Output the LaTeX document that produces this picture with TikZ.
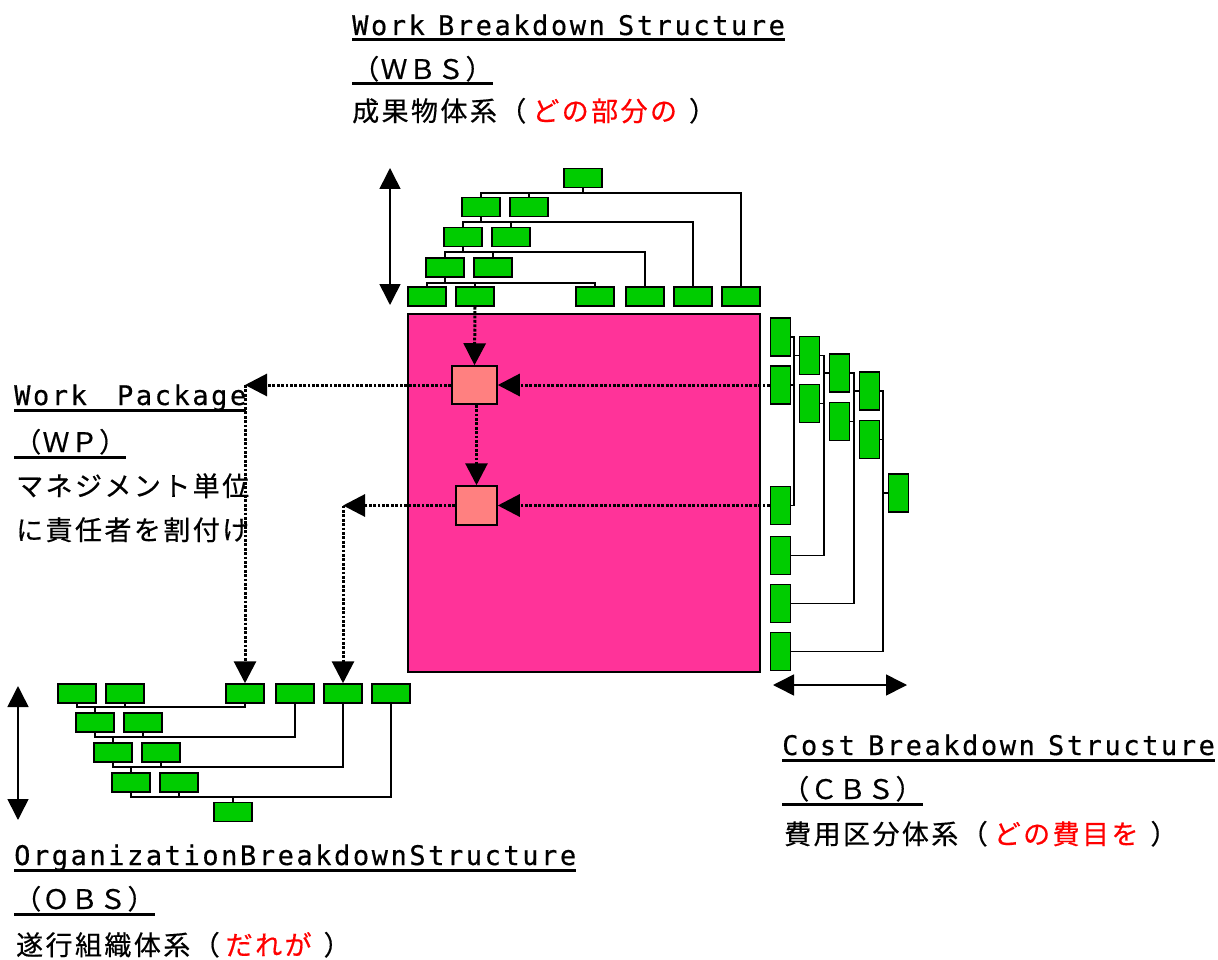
\documentclass[tikz,border=0pt]{standalone}
\usepackage{fontspec}
\usepackage{xcolor}
\usepackage{tikz}
\usetikzlibrary{arrows.meta}
\newfontfamily\jpfont{Noto Sans CJK JP}[LetterSpace=9,FakeBold=0.5]
\newfontfamily\jpabbr{Noto Sans CJK JP}[LetterSpace=5,FakeBold=0.5]
\newfontfamily\enfont{DejaVu Sans Mono}[LetterSpace=9.5,WordSpace=0.7,FakeBold=0.5]
\newcommand{\lpar}{（\hspace{6pt}}
\newcommand{\rpar}{\hspace{12pt}）}
\definecolor{boxgreen}{RGB}{0,204,0}
\definecolor{matpink}{RGB}{255,51,153}
\definecolor{wpsalmon}{RGB}{255,128,128}
\tikzstyle{hbox} = [rectangle, draw=black, line width=1.5pt, fill=boxgreen, minimum width=38pt, minimum height=19pt, inner sep=0pt]
\tikzstyle{vbox} = [rectangle, draw=black, line width=1.5pt, fill=boxgreen, minimum width=20pt, minimum height=38pt, inner sep=0pt]
\tikzstyle{wpbox} = [rectangle, draw=black, line width=1.5pt, fill=wpsalmon, inner sep=0pt]
\tikzstyle{link} = [line width=1.6pt]
\tikzstyle{bigarrow} = [line width=1.6pt,{Triangle[width=21pt,length=21pt]}-{Triangle[width=21pt,length=21pt]}]
\tikzstyle{dotarrow} = [line width=3pt,dash pattern=on 2.8pt off 1.6pt,-{Triangle[width=22pt,length=22pt]}]
\tikzstyle{txt} = [anchor=base west, inner sep=0pt, font=\fontsize{27}{30}\selectfont\jpfont]
\tikzstyle{ul} = [append after command={([yshift=-5pt]\tikzlastnode.base west) edge[line width=3pt] ([yshift=-5pt]\tikzlastnode.base east)}]

\begin{document}
\begin{tikzpicture}[x=1pt,y=-1pt]
\useasboundingbox (0,0) rectangle (1218,960);

% matrix
\node[draw, line width=1.5pt, fill=matpink, minimum width=352pt, minimum height=358pt, inner sep=0pt] (mat) at (584,493) {};

% WBS
\node[hbox] (w0) at (583,178) {};
\node[hbox] (w1a) at (481,207) {};
\node[hbox] (w1b) at (529,207) {};
\node[hbox] (w2a) at (463,237) {};
\node[hbox] (w2b) at (511,237) {};
\node[hbox] (w3a) at (445,267.5) {};
\node[hbox] (w3b) at (493,267.5) {};
\foreach \n/\x in {1/427,2/475,3/595,4/645,5/693,6/741}
  \node[hbox] (b\n) at (\x,296.5) {};
\foreach \p/\ca/\cb/\cc in {w0/w1a/w1b/b6, w1a/w2a/w2b/b5, w2a/w3a/w3b/b4, w3a/b1/b2/b3}
  \draw[link] (\p.south) -- ++(0,5) coordinate (bus) (\ca.north) |- (bus) (\cb.north) |- (bus) (\cc.north) |- (bus);
\coordinate (wtop) at (390,168);
\coordinate (wbot) at (390,305);
\draw[bigarrow] (wtop) -- (wbot);

% CBS
\foreach \n/\y in {1/337,2/385,3/505.5,4/555.5,5/603.5,6/651.5}
  \node[vbox] (c\n) at (780.5,\y) {};
\node[vbox] (d1) at (809.5,355.5) {};
\node[vbox] (d2) at (809.5,403.5) {};
\node[vbox] (e1) at (839.5,373) {};
\node[vbox] (e2) at (839.5,421.5) {};
\node[vbox] (f1) at (869.5,391) {};
\node[vbox] (f2) at (869.5,439.5) {};
\node[vbox] (g0) at (898.5,493) {};
\foreach \p/\ca/\cb/\cc in {g0/f1/f2/c6, f1/e1/e2/c5, e1/d1/d2/c4, d1/c1/c2/c3}
  \draw[link] (\p.west) -- ++(-5,0) coordinate (bus) (\ca.east) -| (bus) (\cb.east) -| (bus) (\cc.east) -| (bus);
\coordinate (cleft) at (773,685);
\coordinate (cright) at (907,685);
\draw[bigarrow] (cleft) -- (cright);

% OBS
\foreach \n/\x in {1/77,2/125,3/245,4/295,5/343,6/391}
  \node[hbox] (t\n) at (\x,693.5) {};
\node[hbox] (o1a) at (95,722.5) {};
\node[hbox] (o1b) at (143,722.5) {};
\node[hbox] (o2a) at (113,752.5) {};
\node[hbox] (o2b) at (161,752.5) {};
\node[hbox] (o3a) at (131,782.5) {};
\node[hbox] (o3b) at (179,782.5) {};
\node[hbox] (o0) at (233,812) {};
\foreach \p/\ca/\cb/\cc in {o0/o3a/o3b/t6, o3a/o2a/o2b/t5, o2a/o1a/o1b/t4, o1a/t1/t2/t3}
  \draw[link] (\p.north) -- ++(0,-5) coordinate (bus) (\ca.south) |- (bus) (\cb.south) |- (bus) (\cc.south) |- (bus);
\coordinate (otop) at (18,686);
\coordinate (obot) at (18,820);
\draw[bigarrow] (otop) -- (obot);

% work packages
\node[wpbox, minimum width=45pt, minimum height=38pt] (wp1) at (474.5,385) {};
\node[wpbox, minimum width=41pt, minimum height=39pt] (wp2) at (476.5,505.5) {};
\coordinate (wpc1) at (245,385);
\coordinate (wpc2) at (343,505.5);
\draw[dotarrow] (b2.south) -- (wp1.north);
\draw[dotarrow] (wp1.south -| wp2.north) -- (wp2.north);
\draw[dotarrow] (c2.west) -- (wp1.east);
\draw[dotarrow] (c3.west) -- (wp2.east);
\draw[dotarrow] (wp1.west) -- (wpc1);
\draw[dotarrow] (wpc1) -- (t3.north);
\draw[dotarrow] (wp2.west) -- (wpc2);
\draw[dotarrow] (wpc2) -- (t5.north);

% texts
\node[txt, ul] (wbsname) at (352,35) {\enfont Work Breakdown Structure};
\node[txt, ul] (wbsabbr) at (352,79) {\jpabbr （ＷＢＳ）};
\node[txt] (wbsdesc) at (352,121) {成果物体系\lpar\textcolor{red}{どの部分の}\rpar};
\node[txt, ul] (wpname) at (14,405) {\enfont Work\hspace{17pt} Package};
\node[txt, ul] (wpabbr) at (14,452) {\jpabbr （ＷＰ）};
\node[txt] (wpdescA) at (16,496) {マネジメント単位};
\node[txt] (wpdescB) at (16,540) {に責任者を割付け};
\node[txt, ul] (cbsname) at (782,755) {\enfont Cost Breakdown Structure};
\node[txt, ul] (cbsabbr) at (782,799) {\jpabbr （ＣＢＳ）};
\node[txt] (cbsdesc) at (784,844) {費用区分体系\lpar\textcolor{red}{どの費目を}\rpar};
\node[txt, ul] (obsname) at (14,865) {\enfont OrganizationBreakdownStructure};
\node[txt, ul] (obsabbr) at (14,909) {\jpabbr （ＯＢＳ）};
\node[txt] (obsdesc) at (16,955) {遂行組織体系\lpar\textcolor{red}{だれが}\rpar};
\end{tikzpicture}
\end{document}
